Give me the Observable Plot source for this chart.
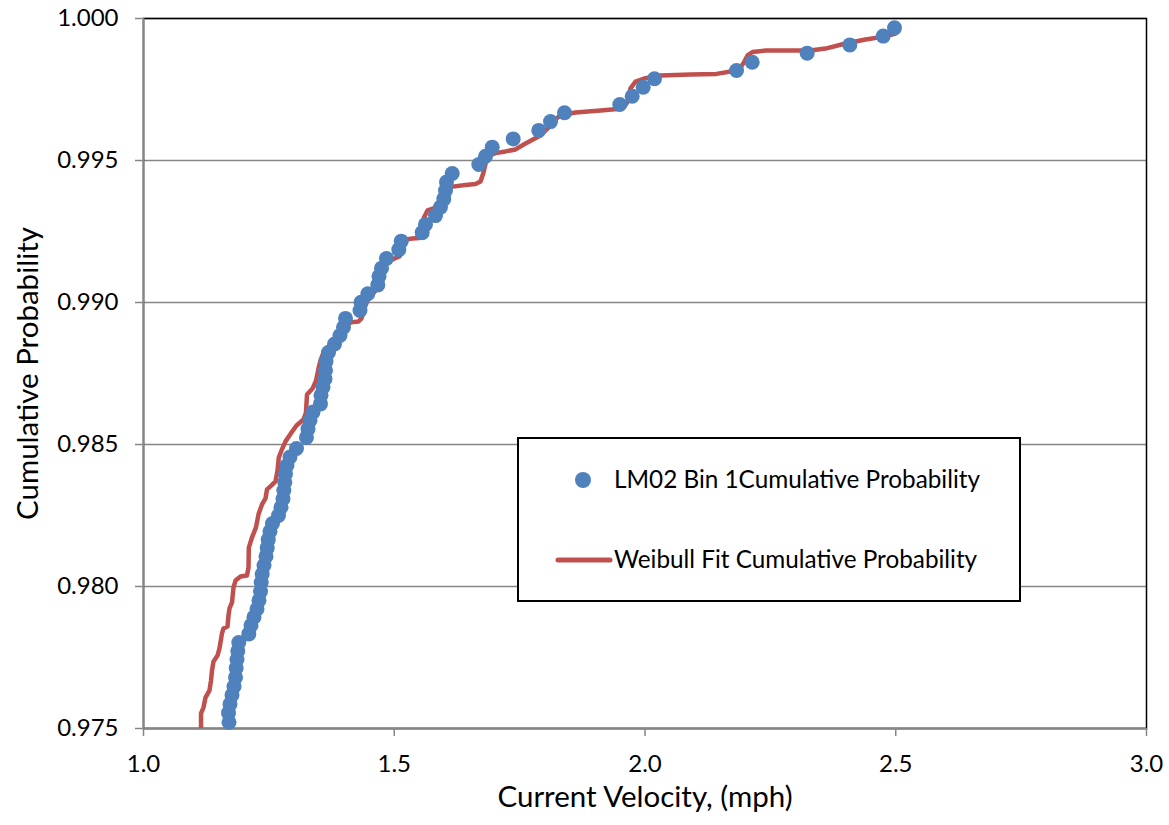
<!DOCTYPE html>
<html>
<head>
<meta charset="utf-8">
<script src="https://cdn.jsdelivr.net/npm/d3@7"></script>
<script src="https://cdn.jsdelivr.net/npm/@observablehq/plot@0.6"></script>
<style>
  html, body { margin: 0; padding: 0; background: #fff; }
  #wrap { position: relative; width: 1169px; height: 825px; font-family: Lato, "Open Sans", sans-serif; }
  #legend {
    position: absolute; left: 517px; top: 437px; width: 500px; height: 161px;
    border: 2px solid #000; background: #fff; box-sizing: content-box;
  }
  #legend .row { position: absolute; left: 0; height: 30px; display: flex; align-items: center; }
  #legend .row span { position: absolute; left: 95px; white-space: nowrap; font-size: 24.3px; color: #000; }
</style>
</head>
<body>
<div id="wrap">
  <div id="chart"></div>
  <div id="legend">
    <div class="row" style="top:24px;">
      <svg width="95" height="30" style="position:absolute;left:0;top:0"><circle cx="64" cy="17" r="8" fill="#4F81BD"/></svg>
      <span>LM02 Bin 1Cumulative Probability</span>
    </div>
    <div class="row" style="top:104px;">
      <svg width="95" height="30" style="position:absolute;left:0;top:0"><line x1="39" y1="17" x2="91" y2="17" stroke="#C0504D" stroke-width="5" stroke-linecap="round"/></svg>
      <span>Weibull Fit Cumulative Probability</span>
    </div>
  </div>
</div>
<script>
// Observed current velocities (mph) and their empirical cumulative probabilities
const obsVelocity = [
  1.1705, 1.1695, 1.1725, 1.1765, 1.1805, 1.1835, 1.1848, 1.1864, 1.1880, 1.1900,
  1.2100, 1.2144, 1.2203, 1.2263, 1.2303, 1.2333, 1.2347, 1.2367, 1.2403, 1.2443,
  1.2467, 1.2487, 1.2522, 1.2572, 1.2692, 1.2742, 1.2782, 1.2798, 1.2818, 1.2831,
  1.2861, 1.2921, 1.3051, 1.3250, 1.3280, 1.3320, 1.3380, 1.3529, 1.3539, 1.3579,
  1.3619, 1.3629, 1.3639, 1.3689, 1.3809, 1.3918, 1.3988, 1.4028, 1.4317, 1.4337,
  1.4473, 1.4672, 1.4696, 1.4746, 1.4845, 1.5091, 1.5139, 1.5557, 1.5623, 1.5823,
  1.5922, 1.5988, 1.6022, 1.6042, 1.6156, 1.6686, 1.6820, 1.6953, 1.7372, 1.7882,
  1.8116, 1.8395, 1.9498, 1.9745, 1.9964, 2.0189, 2.1825, 2.2138, 2.3234, 2.4084,
  2.4750, 2.4975
];
const obsProbability = [
  0.97522, 0.97555, 0.97586, 0.97618, 0.97648, 0.97680, 0.97713, 0.97743, 0.97773, 0.97803,
  0.97833, 0.97863, 0.97892, 0.97921, 0.97951, 0.97982, 0.98014, 0.98044, 0.98074, 0.98106,
  0.98136, 0.98165, 0.98194, 0.98222, 0.98250, 0.98279, 0.98309, 0.98338, 0.98367, 0.98397,
  0.98426, 0.98456, 0.98486, 0.98525, 0.98555, 0.98585, 0.98614, 0.98643, 0.98673, 0.98702,
  0.98731, 0.98761, 0.98792, 0.98824, 0.98854, 0.98884, 0.98913, 0.98944, 0.98972, 0.99001,
  0.99031, 0.99062, 0.99092, 0.99121, 0.99155, 0.99186, 0.99216, 0.99246, 0.99275, 0.99306,
  0.99336, 0.99365, 0.99394, 0.99424, 0.99454, 0.99486, 0.99515, 0.99547, 0.99576, 0.99606,
  0.99637, 0.99668, 0.99697, 0.99726, 0.99758, 0.99788, 0.99817, 0.99846, 0.99878, 0.99907,
  0.99938, 0.99967
];

// Weibull fit curve
const fitVelocity = [
  1.1147, 1.1147, 1.1196, 1.1236, 1.1316, 1.1346, 1.1366, 1.1396, 1.1476, 1.1515,
  1.1565, 1.1595, 1.1675, 1.1695, 1.1715, 1.1765, 1.1795, 1.1835, 1.1934, 1.2064,
  1.2094, 1.2100, 1.2164, 1.2243, 1.2293, 1.2363, 1.2433, 1.2463, 1.2552, 1.2632,
  1.2672, 1.2698, 1.2752, 1.2832, 1.2951, 1.3051, 1.3190, 1.3240, 1.3260, 1.3370,
  1.3440, 1.3490, 1.3529, 1.3589, 1.3689, 1.3829, 1.3968, 1.4048, 1.4128, 1.4287,
  1.4347, 1.4387, 1.4467, 1.4626, 1.4706, 1.4766, 1.4845, 1.5005, 1.5105, 1.5165,
  1.5224, 1.5364, 1.5504, 1.5563, 1.5593, 1.5663, 1.5783, 1.5922, 1.5982, 1.6042,
  1.6162, 1.6421, 1.6620, 1.6720, 1.6780, 1.6820, 1.6899, 1.7019, 1.7218, 1.7418,
  1.7617, 1.7916, 1.8116, 1.8255, 1.8375, 1.8614, 1.9113, 1.9452, 1.9591, 1.9671,
  1.9711, 1.9811, 2.0010, 2.0309, 2.0907, 2.1426, 2.1765, 2.1904, 2.1984, 2.2044,
  2.2144, 2.2403, 2.2901, 2.3300, 2.3599, 2.3998, 2.4397, 2.4796, 2.4995
];
const fitProbability = [
  0.97500, 0.97553, 0.97574, 0.97609, 0.97634, 0.97669, 0.97704, 0.97736, 0.97757, 0.97782,
  0.97835, 0.97852, 0.97859, 0.97898, 0.97923, 0.97944, 0.97997, 0.98021, 0.98035, 0.98039,
  0.98067, 0.98137, 0.98173, 0.98208, 0.98254, 0.98289, 0.98310, 0.98342, 0.98356, 0.98370,
  0.98408, 0.98454, 0.98479, 0.98511, 0.98542, 0.98567, 0.98588, 0.98613, 0.98676, 0.98697,
  0.98725, 0.98768, 0.98796, 0.98824, 0.98845, 0.98866, 0.98887, 0.98916, 0.98930, 0.98933,
  0.98944, 0.98972, 0.99007, 0.99042, 0.99077, 0.99113, 0.99141, 0.99155, 0.99162, 0.99194,
  0.99222, 0.99225, 0.99227, 0.99254, 0.99299, 0.99324, 0.99331, 0.99349, 0.99373, 0.99401,
  0.99408, 0.99414, 0.99417, 0.99426, 0.99458, 0.99489, 0.99518, 0.99526, 0.99532, 0.99539,
  0.99560, 0.99588, 0.99623, 0.99651, 0.99662, 0.99669, 0.99676, 0.99681, 0.99690, 0.99711,
  0.99754, 0.99778, 0.99790, 0.99799, 0.99803, 0.99805, 0.99815, 0.99827, 0.99849, 0.99870,
  0.99882, 0.99887, 0.99887, 0.99887, 0.99894, 0.99912, 0.99926, 0.99937, 0.99947
];

const xTicks = [1.0, 1.5, 2.0, 2.5, 3.0];
const yTicks = [0.975, 0.980, 0.985, 0.990, 0.995, 1.000];

const observed = obsVelocity.map((v, i) => ({velocity: v, probability: obsProbability[i]}));
const fitted = fitVelocity.map((v, i) => ({velocity: v, probability: fitProbability[i]}));

const axisGray = "#868686";

const chart = Plot.plot({
  width: 1169,
  height: 825,
  marginLeft: 143,
  marginRight: 23,
  marginTop: 18,
  marginBottom: 97,
  style: {fontFamily: "Lato, 'Open Sans', sans-serif", background: "#fff", color: "#000"},
  x: {domain: [1, 3]},
  y: {domain: [0.975, 1.0]},
  marks: [
    Plot.gridY(yTicks, {stroke: axisGray, strokeOpacity: 1, strokeWidth: 1.5}),
    Plot.frame({stroke: "#000", strokeWidth: 1.5}),
    Plot.ruleX([1], {stroke: axisGray, strokeWidth: 2}),
    Plot.ruleY([0.975], {stroke: axisGray, strokeWidth: 2}),
    Plot.line(fitted, {x: "velocity", y: "probability", stroke: "#C0504D", strokeWidth: 4.5,
      strokeLinejoin: "round", strokeLinecap: "round", clip: true}),
    Plot.dot(observed, {x: "velocity", y: "probability", r: 7.5, fill: "#4F81BD"}),
    Plot.axisX(xTicks, {tickFormat: d3.format(".1f"), tickSize: 8, tickPadding: 18,
      stroke: axisGray, strokeWidth: 1.5, fontSize: 24, fill: "#000", label: null}),
    Plot.axisY(yTicks, {tickFormat: d3.format(".3f"), tickSize: 8, tickPadding: 17,
      stroke: axisGray, strokeWidth: 1.5, fontSize: 24, fill: "#000", label: null}),
    Plot.text(["Current Velocity, (mph)"], {frameAnchor: "bottom", dy: 78, fontSize: 29.5, fill: "#000"}),
    Plot.text(["Cumulative Probability"], {frameAnchor: "left", dx: -115, rotate: -90, textAnchor: "middle",
      fontSize: 29.5, fill: "#000"})
  ]
});
document.getElementById("chart").appendChild(chart);
</script>
</body>
</html>
